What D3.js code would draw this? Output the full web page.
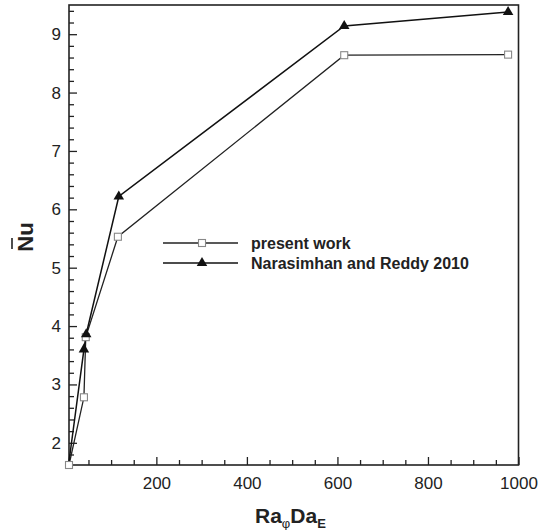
<!DOCTYPE html>
<html><head><meta charset="utf-8">
<script src="https://cdn.jsdelivr.net/npm/d3@7"></script>
<style>
html,body{margin:0;padding:0;background:#fff;}
svg{display:block;font-family:"Liberation Sans",Arial,sans-serif;}
</style></head>
<body>
<svg id="c" width="543" height="530"></svg>
<script>
// data
const presentX = [7, 40, 44, 115, 615, 977];
const presentY = [1.62, 2.78, 3.81, 5.53, 8.64, 8.65];
const narasX = [7, 40, 45, 117, 615, 977];
const narasY = [1.68, 3.60, 3.86, 6.22, 9.14, 9.38];
const xMajorTicks = [200, 400, 600, 800, 1000];
const yMajorTicks = [2, 3, 4, 5, 6, 7, 8, 9];
const seriesNames = ["present work", "Narasimhan and Reddy 2010"];

const W = 543, H = 530;
const m = {l: 69, r: 24.5, t: 5, b: 65};
const svg = d3.select("#c");
const x = d3.scaleLinear().domain([7, 1000]).range([m.l, W - m.r]);
const y = d3.scaleLinear().domain([1.62, 9.5]).range([H - m.b, m.t]);

const xMinor = d3.range(50, 1001, 50).filter(v => !xMajorTicks.includes(v));
const yMinor = d3.range(1.8, 9.41, 0.2).map(v => +v.toFixed(1)).filter(v => !yMajorTicks.includes(v));

// x axis (ticks inward)
const gx = svg.append("g").attr("transform", `translate(0,${H - m.b})`);
gx.call(d3.axisBottom(x).tickValues(xMinor).tickSize(-5).tickFormat(""));
gx.call(g => g.select(".domain").remove());
const gx2 = svg.append("g").attr("transform", `translate(0,${H - m.b})`);
gx2.call(d3.axisBottom(x).tickValues(xMajorTicks).tickSize(-8).tickPadding(12).tickFormat(d3.format("d")));
gx2.select(".domain").remove();
gx2.selectAll("text").attr("font-size", 17).attr("fill", "#222").attr("font-family", "Liberation Sans, Arial, sans-serif");
svg.selectAll("g line").attr("stroke", "#222").attr("stroke-width", 1.3);

// y axis
const gy = svg.append("g").attr("transform", `translate(${m.l},0)`);
gy.call(d3.axisLeft(y).tickValues(yMinor).tickSize(-5).tickFormat(""));
gy.select(".domain").remove();
const gy2 = svg.append("g").attr("transform", `translate(${m.l},0)`);
gy2.call(d3.axisLeft(y).tickValues(yMajorTicks).tickSize(-8).tickPadding(8).tickFormat(d3.format("d")));
gy2.select(".domain").remove();
gy2.selectAll("text").attr("font-size", 17).attr("fill", "#222").attr("font-family", "Liberation Sans, Arial, sans-serif");
svg.selectAll("g line").attr("stroke", "#222").attr("stroke-width", 1.3);

// frame
svg.append("rect").attr("x", m.l).attr("y", m.t)
  .attr("width", W - m.r - m.l).attr("height", H - m.b - m.t)
  .attr("fill", "none").attr("stroke", "#222").attr("stroke-width", 1.6);

const line = d3.line().x(d => x(d[0])).y(d => y(d[1]));
const pData = presentX.map((v, i) => [v, presentY[i]]);
const nData = narasX.map((v, i) => [v, narasY[i]]);

svg.append("path").datum(pData).attr("d", line).attr("fill", "none").attr("stroke", "#222").attr("stroke-width", 1.3);
svg.append("path").datum(nData).attr("d", line).attr("fill", "none").attr("stroke", "#111").attr("stroke-width", 1.5);

const sq = 7;
svg.selectAll(".sq").data(pData).join("rect")
  .attr("x", d => x(d[0]) - sq / 2).attr("y", d => y(d[1]) - sq / 2)
  .attr("width", sq).attr("height", sq)
  .attr("fill", "#fff").attr("stroke", "#888").attr("stroke-width", 1.1);

const tri = d3.symbol().type(d3.symbolTriangle).size(48);
svg.selectAll(".tri").data(nData.filter((d, i) => i > 0)).join("path")
  .attr("transform", d => `translate(${x(d[0])},${y(d[1])})`)
  .attr("d", tri).attr("fill", "#111");

// legend
const lg = svg.append("g");
const rows = [243, 263];
lg.append("line").attr("x1", 163).attr("x2", 238).attr("y1", rows[0]).attr("y2", rows[0]).attr("stroke", "#222").attr("stroke-width", 1.3);
lg.append("rect").attr("x", 202 - sq / 2).attr("y", rows[0] - sq / 2).attr("width", sq).attr("height", sq)
  .attr("fill", "#fff").attr("stroke", "#888").attr("stroke-width", 1.1);
lg.append("line").attr("x1", 163).attr("x2", 238).attr("y1", rows[1]).attr("y2", rows[1]).attr("stroke", "#111").attr("stroke-width", 1.5);
lg.append("path").attr("transform", `translate(202,${rows[1]})`).attr("d", tri).attr("fill", "#111");
seriesNames.forEach((s, i) => {
  lg.append("text").attr("x", 251).attr("y", rows[i] + 5.5).attr("font-size", 16).attr("font-weight", "bold")
    .attr("fill", "#222").text(s);
});

// x title
const xt = svg.append("text").attr("x", 255).attr("y", 523).attr("font-size", 21).attr("font-weight", "bold").attr("fill", "#222");
xt.append("tspan").text("Ra");
xt.append("tspan").attr("font-size", 13).attr("dy", 5).attr("font-weight", "normal").text("φ");
xt.append("tspan").attr("dy", -5).text("Da");
xt.append("tspan").attr("font-size", 13).attr("dy", 5).text("E");

// y title
const yt = svg.append("g").attr("transform", "translate(33,237) rotate(-90)");
yt.append("text").attr("x", 0).attr("y", 0).attr("text-anchor", "middle").attr("font-size", 22).attr("font-weight", "bold").attr("fill", "#222").text("Nu");
yt.append("line").attr("x1", -12).attr("x2", -1).attr("y1", -21).attr("y2", -21).attr("stroke", "#222").attr("stroke-width", 1.6);
</script>
</body></html>
